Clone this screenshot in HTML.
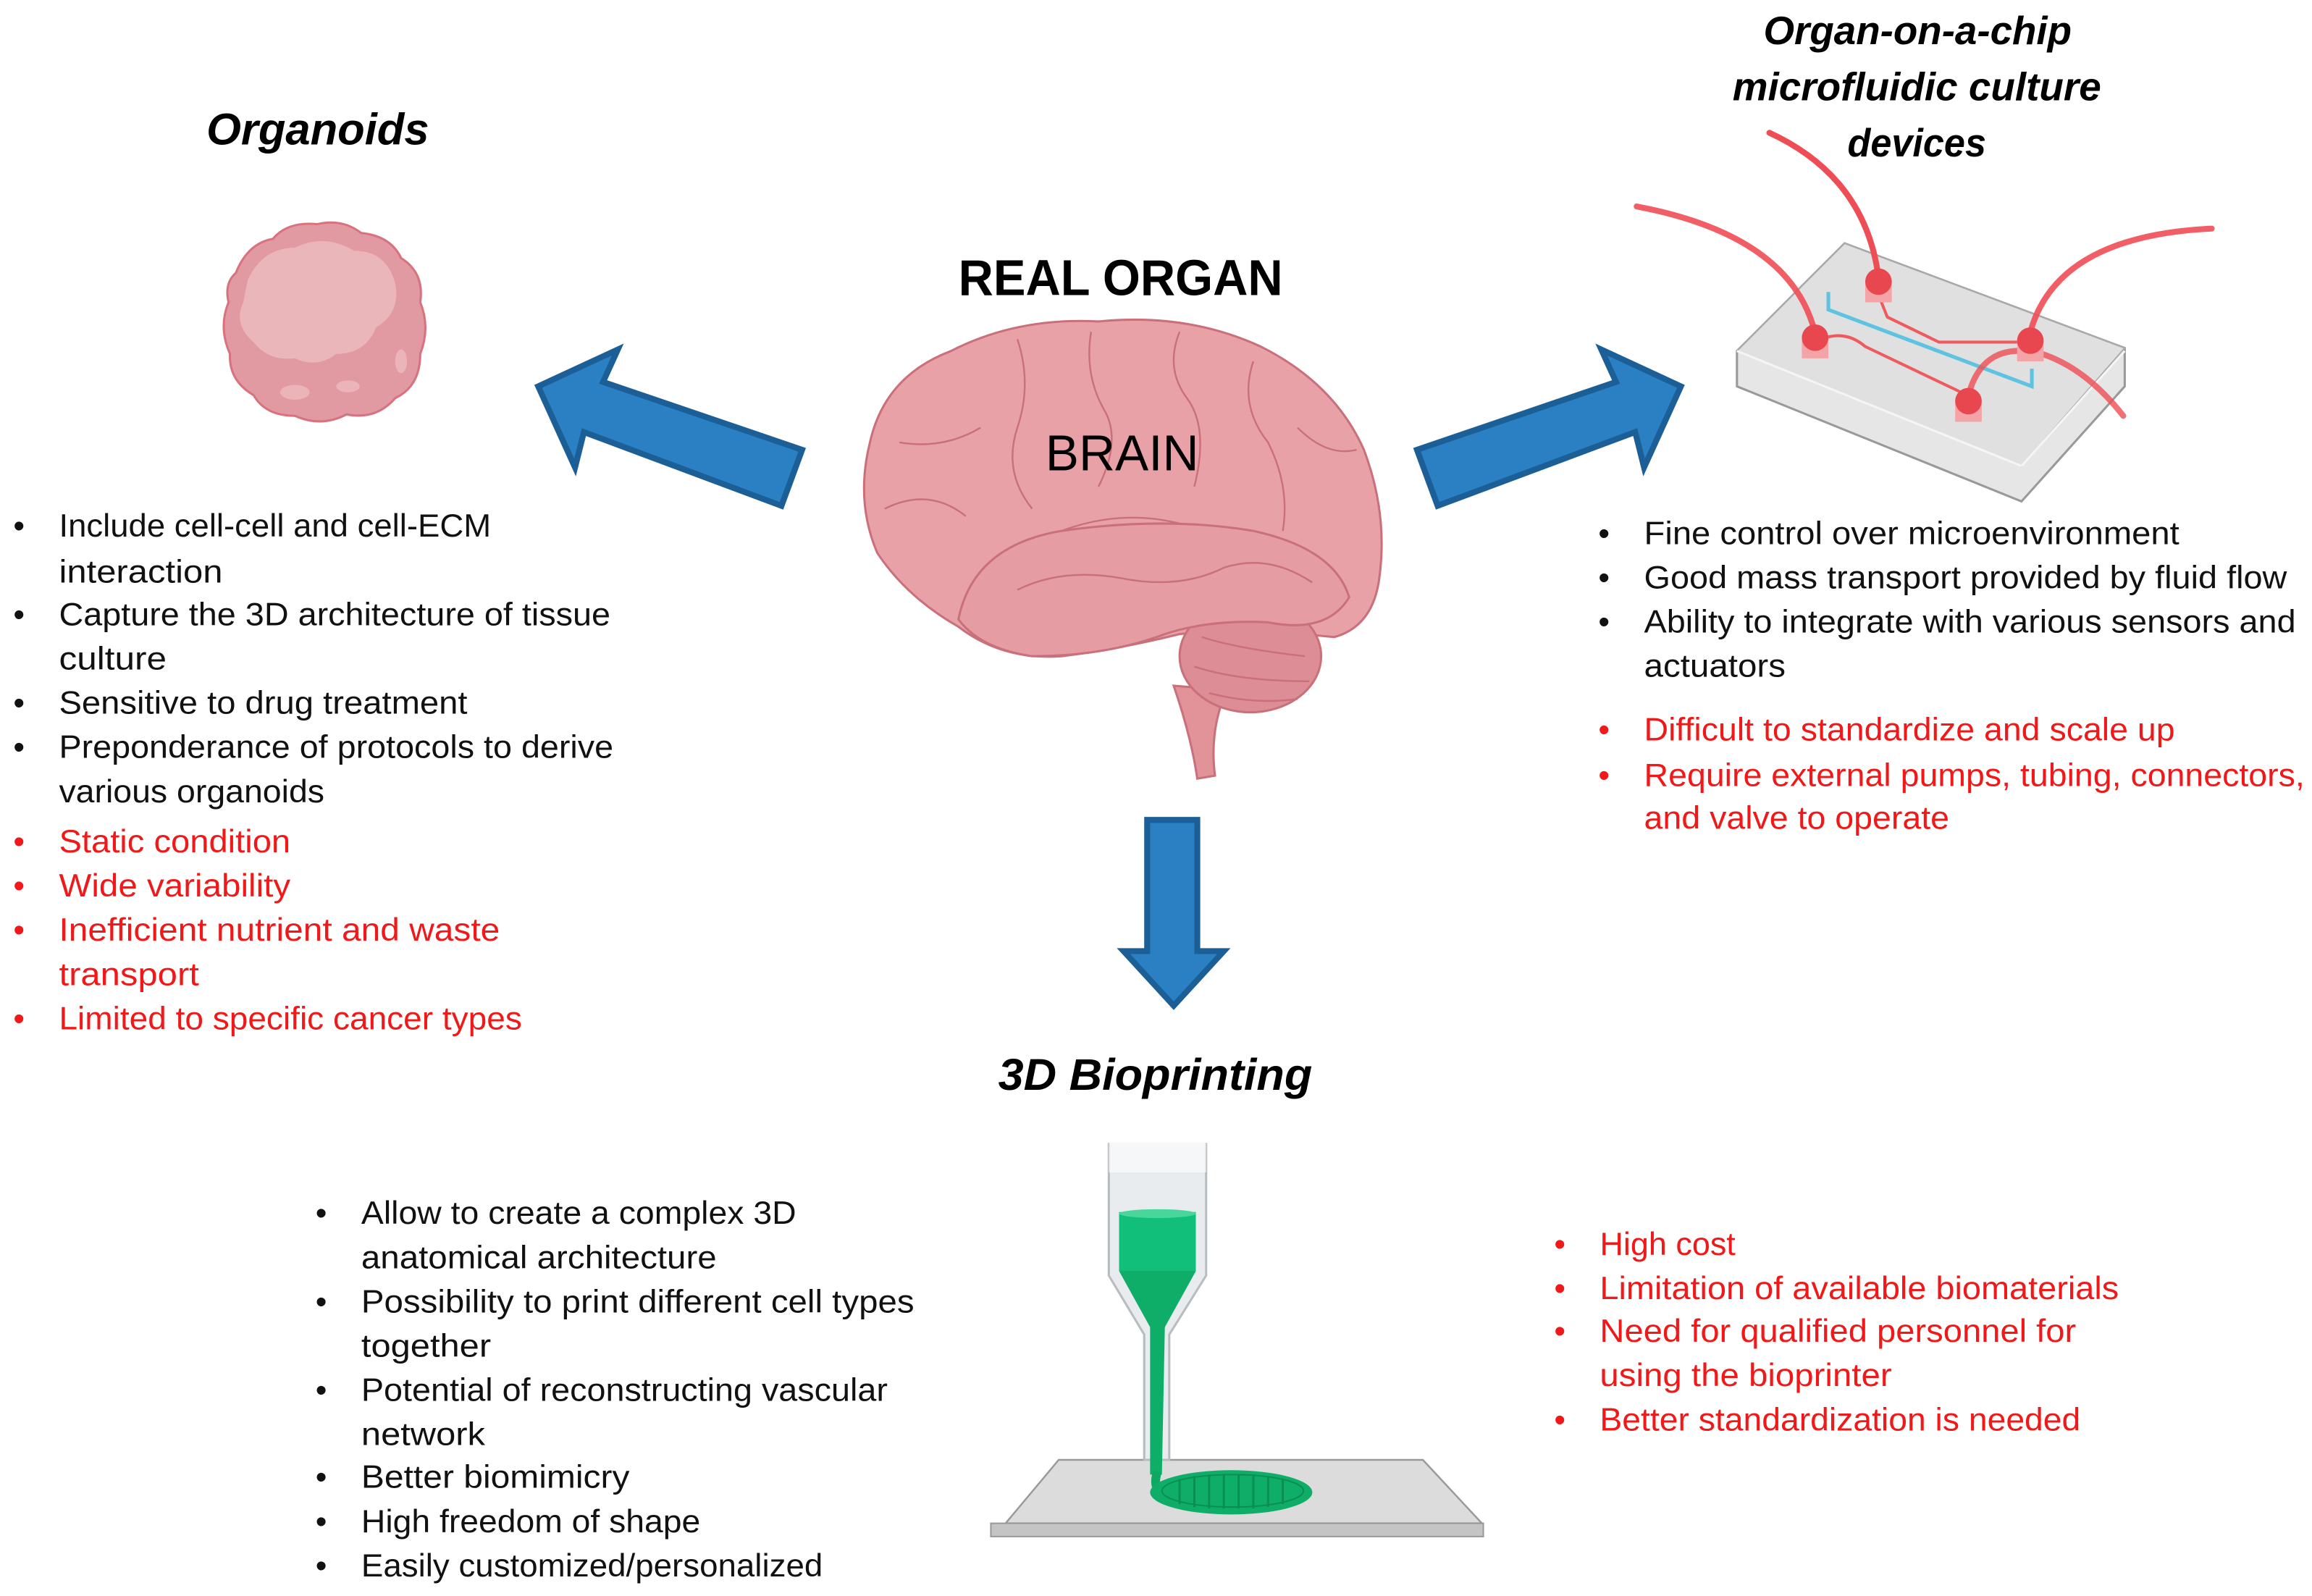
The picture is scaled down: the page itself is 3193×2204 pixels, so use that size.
<!DOCTYPE html>
<html><head><meta charset="utf-8">
<style>
html,body{margin:0;padding:0;background:#fff;}
svg{display:block;}
text{font-family:"Liberation Sans",sans-serif;}
</style></head>
<body>
<svg width="3193" height="2204" viewBox="0 0 1568 1082.3" xmlns="http://www.w3.org/2000/svg">
<rect x="0" y="0" width="1568" height="1083" fill="#fff"/>

<!-- Titles -->
<text x="140" y="98" font-size="30" font-weight="bold" font-style="italic" textLength="151" lengthAdjust="spacingAndGlyphs">Organoids</text>
<text x="650" y="200" font-size="34" font-weight="bold" textLength="220" lengthAdjust="spacingAndGlyphs">REAL ORGAN</text>
<text x="1196" y="30" font-size="27" font-weight="bold" font-style="italic" textLength="209" lengthAdjust="spacingAndGlyphs">Organ-on-a-chip</text>
<text x="1175" y="68" font-size="27" font-weight="bold" font-style="italic" textLength="250" lengthAdjust="spacingAndGlyphs">microfluidic culture</text>
<text x="1253" y="106" font-size="27" font-weight="bold" font-style="italic" textLength="94" lengthAdjust="spacingAndGlyphs">devices</text>
<text x="677" y="739" font-size="30" font-weight="bold" font-style="italic" textLength="213" lengthAdjust="spacingAndGlyphs">3D Bioprinting</text>

<!-- Organoid -->
<g>
<path d="M160,185 Q168,165 185,162 Q195,150 215,152 Q232,148 245,158 Q265,160 272,175 Q288,185 285,205 Q292,222 285,240 Q285,262 268,270 Q255,285 235,281 Q218,290 200,282 Q180,282 172,268 Q155,258 156,240 Q148,222 155,205 Q152,192 160,185Z" fill="#e29aa2" stroke="#d7727e" stroke-width="1.5"/>
<path d="M168,190 Q178,168 200,168 Q220,158 240,170 Q262,170 268,192 Q272,212 255,222 Q248,240 228,240 Q215,250 200,243 Q182,245 172,232 Q158,220 165,205Z" fill="#ebb6ba"/>
<ellipse cx="200" cy="266" rx="10" ry="5" fill="#ebb4b8"/>
<ellipse cx="236" cy="262" rx="8" ry="4" fill="#ebb4b8"/>
<ellipse cx="272" cy="245" rx="4" ry="8" fill="#ebb4b8"/>
</g>

<!-- Arrows -->
<polygon points="365,262 419,237 409,259 544,305 530,343 396,293 390,317" fill="#2a80c2" stroke="#1b5f96" stroke-width="4"/>
<polygon points="1140,262 1086,237 1096,259 961,305 975,343 1109,293 1115,317" fill="#2a80c2" stroke="#1b5f96" stroke-width="4"/>
<polygon points="778,556 812,556 812,645 830,645 796,682 762,645 778,645" fill="#2a80c2" stroke="#1b5f96" stroke-width="4"/>

<!-- Brain -->
<g stroke="#c9707a" stroke-width="1.5">
<path d="M796,465 Q808,500 812,528 L824,526 Q820,495 832,468Z" fill="#e2939a"/>
<path d="M590,300 Q600,255 645,238 Q690,215 745,218 Q805,212 855,235 Q905,260 925,305 Q942,350 935,395 Q930,425 905,432 Q880,430 850,425 L800,430 Q760,440 720,445 Q680,448 650,425 Q615,405 595,375 Q580,340 590,300Z" fill="#e8a2a7"/>
<ellipse cx="848" cy="445" rx="48" ry="38" fill="#dd8d95"/>
<path d="M650,420 Q660,370 720,360 Q790,350 850,360 Q905,372 915,405 Q900,430 860,422 Q820,420 790,430 Q750,445 700,445 Q665,440 650,420Z" fill="#e59ca2"/>
<g fill="none" stroke="#c9707a" stroke-width="1.2">
<path d="M690,230 Q700,260 690,290 Q680,320 700,345"/>
<path d="M740,225 Q735,255 750,280 Q760,300 745,330"/>
<path d="M800,225 Q790,250 805,270 Q820,290 810,330"/>
<path d="M850,245 Q840,275 860,300 Q875,330 870,360"/>
<path d="M610,300 Q640,305 665,290"/>
<path d="M600,345 Q630,330 655,350"/>
<path d="M880,290 Q900,310 920,305"/>
<path d="M690,400 Q720,385 760,392 Q800,400 830,385 Q860,375 890,395"/>
<path d="M720,360 Q760,345 800,355"/>
<path d="M815,432 Q840,440 885,445"/><path d="M810,452 Q840,462 888,462"/><path d="M820,470 Q850,478 880,474"/>
</g>
</g>
<text x="709" y="319" font-size="34" textLength="104" lengthAdjust="spacingAndGlyphs">BRAIN</text>

<!-- Chip -->
<g>
<polygon points="1251,165 1441,236 1441,262 1371,340 1178,262 1178,238" fill="#e6e6e6" stroke="#999" stroke-width="1.5"/>
<polygon points="1251,165 1441,236 1371,316 1178,238" fill="#e0e0e0" stroke="#aaa" stroke-width="1"/>
<line x1="1178" y1="238" x2="1371" y2="316" stroke="#f5f5f5" stroke-width="1.5"/>
<line x1="1371" y1="316" x2="1441" y2="238" stroke="#f5f5f5" stroke-width="1.5"/>
<path d="M1240,198 L1240,210 L1378,262 L1378,250" fill="none" stroke="#5ec3e0" stroke-width="2.5"/>
<path d="M1231,232 Q1250,222 1265,235 L1330,266" fill="none" stroke="#ef5a5f" stroke-width="2"/>
<path d="M1274,200 L1280,215 L1315,232 L1377,232" fill="none" stroke="#ef5a5f" stroke-width="2"/>
<g fill="none" stroke="#ef4d55" stroke-width="4" stroke-linecap="round">
<path d="M1231,226 Q1215,160 1110,140" opacity="0.9"/>
<path d="M1274,188 Q1265,120 1200,90"/>
<path d="M1377,225 Q1395,160 1500,155" opacity="0.9"/>
<path d="M1335,268 Q1345,230 1385,240 Q1415,250 1440,282" opacity="0.8"/>
</g>
<g fill="#f4a3a6"><rect x="1222" y="229" width="18" height="14"/><rect x="1265" y="191" width="18" height="14"/><rect x="1368" y="231" width="18" height="14"/><rect x="1326" y="272" width="18" height="14"/></g>
<g fill="#e9474f"><circle cx="1231" cy="229" r="9"/><circle cx="1274" cy="191" r="9"/><circle cx="1377" cy="231" r="9"/><circle cx="1335" cy="272" r="9"/></g>
</g>

<!-- Bioprinter -->
<g>
<polygon points="682,1033 718,990 965,990 1005,1033" fill="#dcdcdc" stroke="#999" stroke-width="1.2"/>
<rect x="672" y="1033" width="334" height="9" fill="#c4c4c4" stroke="#999" stroke-width="1"/>
<path d="M752,775 L752,865 L776,905 L776,990 L793,990 L793,905 L818,865 L818,775" fill="#e8ecee" stroke="#b8bcbf" stroke-width="1.5"/>
<rect x="752" y="775" width="66" height="20" fill="#fff" opacity="0.6"/>
<path d="M759,822 L811,822 L811,862 L790,900 L788,1000 L780,1000 L780,900 L759,862Z" fill="#0fae68"/>
<rect x="759" y="822" width="52" height="40" fill="#12bf7a"/>
<ellipse cx="785" cy="823" rx="26" ry="3" fill="#48d69a"/>
<path d="M785,998 Q780,1012 795,1018" fill="none" stroke="#0fa862" stroke-width="6"/>
<ellipse cx="835" cy="1012" rx="55" ry="15" fill="#0fae68"/>
<ellipse cx="836" cy="1011" rx="48" ry="11" fill="none" stroke="#0a8f52" stroke-width="1"/>
<g stroke="#0a8f52" stroke-width="1.5">
<line x1="800" y1="1003" x2="800" y2="1020"/><line x1="810" y1="1001" x2="810" y2="1022"/><line x1="820" y1="1000" x2="820" y2="1023"/><line x1="830" y1="1000" x2="830" y2="1023"/><line x1="840" y1="1000" x2="840" y2="1023"/><line x1="850" y1="1000" x2="850" y2="1023"/><line x1="860" y1="1001" x2="860" y2="1022"/><line x1="870" y1="1003" x2="870" y2="1020"/>
</g>
</g>

<!-- Left list -->
<g font-size="22" fill="#111">
<text x="9" y="364">•</text><text x="40" y="364" textLength="293" lengthAdjust="spacingAndGlyphs">Include cell-cell and cell-ECM</text>
<text x="40" y="395" textLength="111" lengthAdjust="spacingAndGlyphs">interaction</text>
<text x="9" y="424">•</text><text x="40" y="424" textLength="374" lengthAdjust="spacingAndGlyphs">Capture the 3D architecture of tissue</text>
<text x="40" y="454" textLength="73" lengthAdjust="spacingAndGlyphs">culture</text>
<text x="9" y="484">•</text><text x="40" y="484" textLength="277" lengthAdjust="spacingAndGlyphs">Sensitive to drug treatment</text>
<text x="9" y="514">•</text><text x="40" y="514" textLength="376" lengthAdjust="spacingAndGlyphs">Preponderance of protocols to derive</text>
<text x="40" y="544" textLength="180" lengthAdjust="spacingAndGlyphs">various organoids</text>
</g>
<g font-size="22" fill="#f01818">
<text x="9" y="578">•</text><text x="40" y="578" textLength="157" lengthAdjust="spacingAndGlyphs">Static condition</text>
<text x="9" y="608">•</text><text x="40" y="608" textLength="157" lengthAdjust="spacingAndGlyphs">Wide variability</text>
<text x="9" y="638">•</text><text x="40" y="638" textLength="299" lengthAdjust="spacingAndGlyphs">Inefficient nutrient and waste</text>
<text x="40" y="668" textLength="95" lengthAdjust="spacingAndGlyphs">transport</text>
<text x="9" y="698">•</text><text x="40" y="698" textLength="314" lengthAdjust="spacingAndGlyphs">Limited to specific cancer types</text>
</g>

<!-- Right list -->
<g font-size="22" fill="#111">
<text x="1084" y="369">•</text><text x="1115" y="369" textLength="363" lengthAdjust="spacingAndGlyphs">Fine control over microenvironment</text>
<text x="1084" y="399">•</text><text x="1115" y="399" textLength="436" lengthAdjust="spacingAndGlyphs">Good mass transport provided by fluid flow</text>
<text x="1084" y="429">•</text><text x="1115" y="429" textLength="442" lengthAdjust="spacingAndGlyphs">Ability to integrate with various sensors and</text>
<text x="1115" y="459" textLength="96" lengthAdjust="spacingAndGlyphs">actuators</text>
</g>
<g font-size="22" fill="#f01818">
<text x="1084" y="502">•</text><text x="1115" y="502" textLength="360" lengthAdjust="spacingAndGlyphs">Difficult to standardize and scale up</text>
<text x="1084" y="533">•</text><text x="1115" y="533" textLength="448" lengthAdjust="spacingAndGlyphs">Require external pumps, tubing, connectors,</text>
<text x="1115" y="562" textLength="207" lengthAdjust="spacingAndGlyphs">and valve to operate</text>
</g>

<!-- Bottom left -->
<g font-size="22" fill="#111">
<text x="214" y="830">•</text><text x="245" y="830" textLength="295" lengthAdjust="spacingAndGlyphs">Allow to create a complex 3D</text>
<text x="245" y="860" textLength="241" lengthAdjust="spacingAndGlyphs">anatomical architecture</text>
<text x="214" y="890">•</text><text x="245" y="890" textLength="375" lengthAdjust="spacingAndGlyphs">Possibility to print different cell types</text>
<text x="245" y="920" textLength="88" lengthAdjust="spacingAndGlyphs">together</text>
<text x="214" y="950">•</text><text x="245" y="950" textLength="357" lengthAdjust="spacingAndGlyphs">Potential of reconstructing vascular</text>
<text x="245" y="980" textLength="84" lengthAdjust="spacingAndGlyphs">network</text>
<text x="214" y="1009">•</text><text x="245" y="1009" textLength="182" lengthAdjust="spacingAndGlyphs">Better biomimicry</text>
<text x="214" y="1039">•</text><text x="245" y="1039" textLength="230" lengthAdjust="spacingAndGlyphs">High freedom of shape</text>
<text x="214" y="1069">•</text><text x="245" y="1069" textLength="313" lengthAdjust="spacingAndGlyphs">Easily customized/personalized</text>
</g>

<!-- Bottom right -->
<g font-size="22" fill="#f01818">
<text x="1054" y="851">•</text><text x="1085" y="851" textLength="92" lengthAdjust="spacingAndGlyphs">High cost</text>
<text x="1054" y="881">•</text><text x="1085" y="881" textLength="352" lengthAdjust="spacingAndGlyphs">Limitation of available biomaterials</text>
<text x="1054" y="910">•</text><text x="1085" y="910" textLength="323" lengthAdjust="spacingAndGlyphs">Need for qualified personnel for</text>
<text x="1085" y="940" textLength="198" lengthAdjust="spacingAndGlyphs">using the bioprinter</text>
<text x="1054" y="970">•</text><text x="1085" y="970" textLength="326" lengthAdjust="spacingAndGlyphs">Better standardization is needed</text>
</g>
</svg>
</body></html>
